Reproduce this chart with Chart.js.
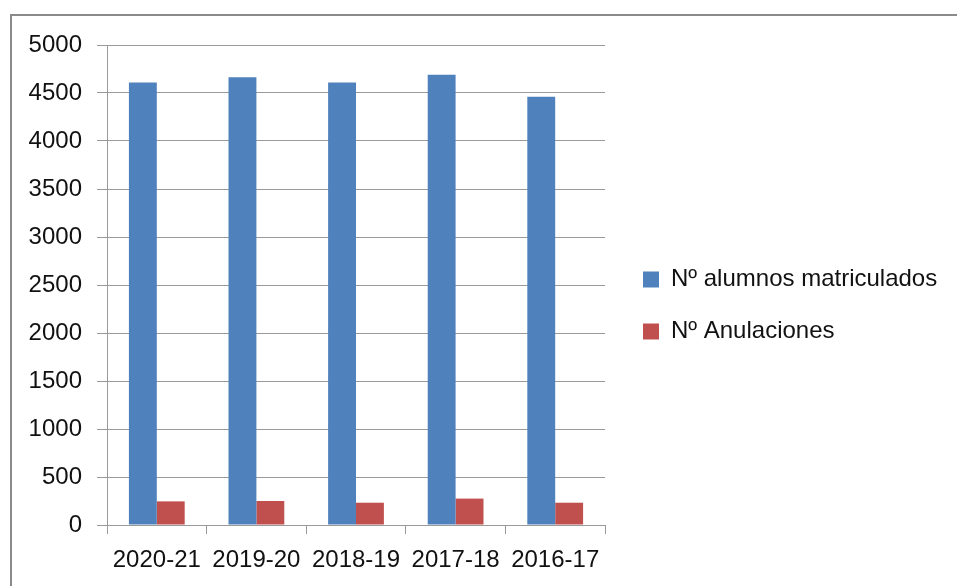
<!DOCTYPE html>
<html>
<head>
<meta charset="utf-8">
<script src="https://cdn.jsdelivr.net/npm/chart.js@4.4.1/dist/chart.umd.min.js"></script>
<style>
  html, body { margin: 0; padding: 0; background: #fff; overflow: hidden; }
  #frame {
    position: absolute; left: 10px; top: 14px; width: 980px; height: 620px;
    border-top: 2px solid #8a8a8a; border-left: 2px solid #8a8a8a;
  }
  #wrap { position: absolute; left: 0; top: 0; width: 957px; height: 586px; }
</style>
</head>
<body>
<div id="frame"></div>
<div id="wrap"><canvas id="chart" width="957" height="586"></canvas></div>
<script>
// cursos (newest first, like the original sheet)
const cursos = ['2020-21', '2019-20', '2018-19', '2017-18', '2016-17'];
const matriculados = [4610, 4665, 4610, 4690, 4460];
const anulaciones = [246, 250, 232, 275, 232];
const yTicks = [0, 500, 1000, 1500, 2000, 2500, 3000, 3500, 4000, 4500, 5000];

const textColor = '#111';
const gridColor = '#9a9a9a';
const font = { family: 'Liberation Sans, Arial, sans-serif', size: 24 };

// legend on the right is wider than chart.js allows by default, so widen it
// and nudge it a bit so it sits where the excel one does
const legendFix = {
  id: 'legendFix',
  afterInit(chart) {
    const lg = chart.legend;
    const origFit = lg.fit.bind(lg);
    lg.fit = function () {
      this.maxWidth = 352;
      origFit();
      this.width = 352;
    };
  },
  afterLayout(chart) {
    const lg = chart.legend;
    lg.left += 10; lg.right += 10;
    lg.top -= 10; lg.bottom -= 10;
  },
};

const chart = new Chart(document.getElementById('chart'), {
  type: 'bar',
  data: {
    labels: cursos,
    datasets: [
      {
        label: 'Nº alumnos matriculados',
        data: matriculados,
        backgroundColor: '#4f81bd',
        categoryPercentage: 0.56,
        barPercentage: 1.0,
      },
      {
        label: 'Nº Anulaciones',
        data: anulaciones,
        backgroundColor: '#c0504d',
        categoryPercentage: 0.56,
        barPercentage: 1.0,
      },
    ],
  },
  options: {
    responsive: false,
    animation: false,
    devicePixelRatio: 1,
    layout: { padding: { top: 45, right: 0, bottom: 0, left: 0 } },
    plugins: {
      tooltip: { enabled: false },
      legend: {
        position: 'right',
        labels: {
          color: textColor,
          font: font,
          boxWidth: 16,
          boxHeight: 16,
          padding: 28,
        },
      },
    },
    scales: {
      x: {
        grid: {
          offset: true,
          drawOnChartArea: false,
          drawTicks: true,
          tickLength: 9,
          color: gridColor,
        },
        border: { display: true, color: gridColor },
        ticks: { color: textColor, font: font, padding: 12, maxRotation: 0 },
        afterFit: (scale) => { scale.height = 61; },
      },
      y: {
        min: 0,
        max: 5000,
        grid: { color: gridColor, tickLength: 10 },
        border: { display: true, color: gridColor },
        ticks: {
          stepSize: 500,
          color: textColor,
          font: font,
          padding: 15,
          callback: (v) => String(v),
        },
        afterBuildTicks: (scale) => { scale.ticks = yTicks.map((v) => ({ value: v })); },
        afterFit: (scale) => { scale.width = 107; },
      },
    },
  },
  plugins: [legendFix],
});
</script>
</body>
</html>
